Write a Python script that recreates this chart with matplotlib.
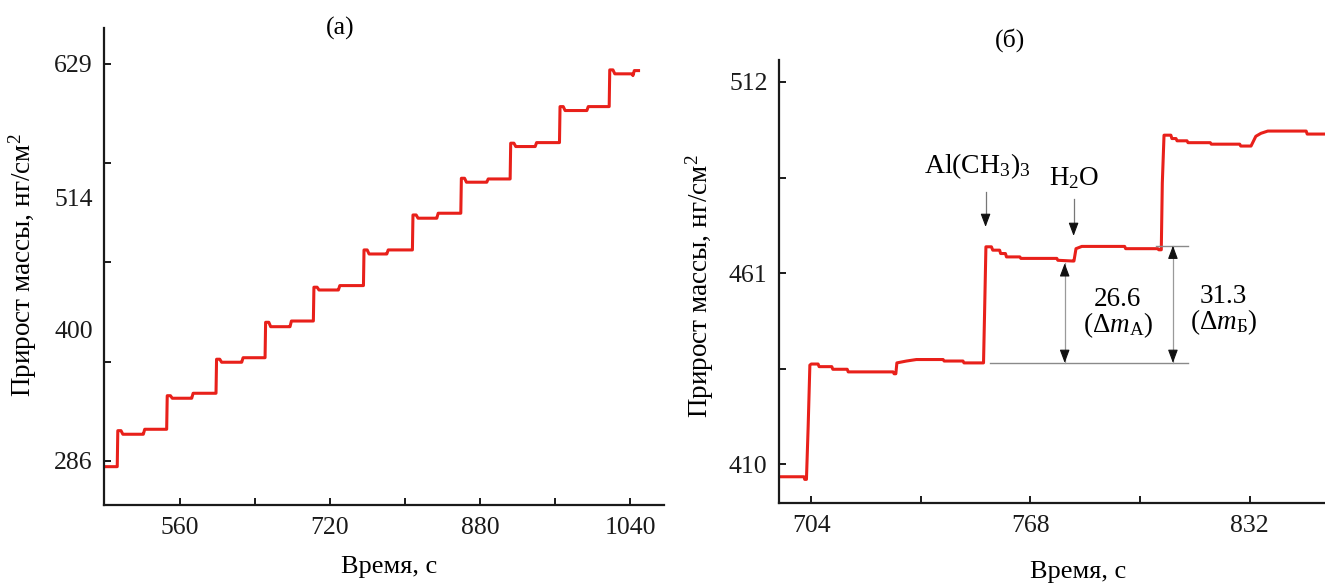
import matplotlib

matplotlib.use("Agg")
import matplotlib.pyplot as plt
import numpy as np

plt.rcParams["font.family"] = ["Liberation Serif", "DejaVu Serif"]
plt.rcParams["mathtext.fontset"] = "custom"
plt.rcParams["mathtext.rm"] = "Liberation Serif"
plt.rcParams["mathtext.it"] = "Liberation Serif:italic"
plt.rcParams["mathtext.bf"] = "Liberation Serif:bold"

RED = "#e8201a"
FS = 18.5

# (а) full run of ALD cycles: one big TMA step and one small water step per cycle
start_t, start_m = 480.0, 281.1
step_t = [493.1, 545.8, 598.4, 650.7, 702.2, 755.6, 807.8, 859.4, 912.0, 964.6, 1017.6]
step_peak = [312.2, 342.4, 373.9, 405.8, 436.1, 468.3, 498.5, 530.2, 560.5, 592.1, 623.8]
step_settle = [309.1, 340.2, 371.3, 402.0, 433.7, 464.8, 495.7, 526.8, 557.6, 588.7, 620.4]
pre_bump = [309.1, 340.2, 371.3, 402.0, 433.7, 464.8, 495.7, 526.8, 557.6, 588.7, 618.9]
bump_t = [520.9, 572.5, 625.8, 677.3, 728.9, 780.5, 833.8, 887.1, 938.7, 993.8, 1042.9]
bump_m = [313.4, 344.5, 375.2, 406.9, 437.5, 468.3, 500.0, 529.6, 561.0, 592.1, 623.2]
end_t = 1048.9

# (б) zoom on a single cycle
trace_t = [695.1, 701.9, 702.1, 702.6, 703.1, 703.6, 704.0, 706.0, 706.3, 710.0, 710.3,
           714.5, 714.8, 727.9, 728.2, 728.7, 729.0, 731.8, 734.7, 742.5, 742.8, 748.3,
           748.6, 754.3, 754.6, 755.0, 756.6, 757.0, 759.0, 759.3, 760.7, 761.0, 764.9,
           765.2, 775.7, 776.0, 780.3, 780.7, 781.3, 783.0, 795.5, 795.8, 805.2, 805.5,
           806.2, 806.5, 807.0, 809.0, 809.3, 810.5, 810.8, 813.7, 814.0, 820.5, 820.8,
           829.1, 829.4, 832.4, 833.8, 835.3, 837.3, 848.5, 848.8, 854.0]
trace_m = [406.6, 406.6, 405.9, 405.9, 420.0, 436.4, 436.7, 436.7, 436.0, 436.0, 435.3,
           435.3, 434.6, 434.6, 434.1, 434.1, 437.0, 437.5, 437.9, 437.9, 437.5, 437.5,
           437.0, 437.0, 450.0, 468.0, 468.0, 467.1, 467.1, 466.2, 466.2, 465.3, 465.3,
           464.9, 464.9, 464.4, 464.2, 464.2, 467.5, 468.1, 468.1, 467.5, 467.5, 467.2,
           467.2, 485.0, 497.8, 497.8, 496.9, 496.9, 496.3, 496.3, 495.8, 495.8, 495.4,
           495.4, 494.9, 494.9, 497.5, 498.3, 498.9, 498.9, 498.1, 498.1]

base_m = 437.0
dm_a = 26.6
dm_b = 31.3
tma_t, h2o_t = 754.9, 780.6
dm_a_t, dm_b_t = 778.0, 809.6


def cycle_trace():
    t, m = [start_t], [start_m]
    prev = start_m
    for i in range(len(step_t)):
        t += [step_t[i], step_t[i] + 0.6, step_t[i] + 4.0, step_t[i] + 6.0,
              bump_t[i] - 0.5, bump_t[i], bump_t[i] + 1.5]
        m += [prev, step_peak[i], step_peak[i], step_settle[i],
              step_settle[i], pre_bump[i], bump_m[i]]
        prev = bump_m[i]
    t.append(end_t)
    m.append(prev)
    return np.array(t), np.array(m)


def style_axis(ax):
    for side in ("top", "right"):
        ax.spines[side].set_visible(False)
    for side in ("left", "bottom"):
        ax.spines[side].set_linewidth(1.6)
        ax.spines[side].set_color("#1a1a1a")
    ax.tick_params(which="both", direction="in", length=5, width=1.4,
                   labelsize=FS, colors="#1a1a1a")
    ax.tick_params(axis="y", pad=8)
    ax.tick_params(axis="x", pad=9)


def double_arrow(ax, x, lo, hi):
    ax.plot([x, x], [lo, hi], color="#9a9a9a", lw=0.9)
    head = "-|>,head_length=0.8,head_width=0.3"
    for tip, tail in ((hi, hi - 3), (lo, lo + 3)):
        ax.annotate("", xy=(x, tip), xytext=(x, tail),
                    arrowprops=dict(arrowstyle=head, fc="#111111", ec="#111111",
                                    lw=0.8, shrinkA=0, shrinkB=0))


def down_arrow(ax, x, top, tip):
    ax.plot([x, x], [top, tip + 2], color="#777777", lw=0.9)
    ax.annotate("", xy=(x, tip), xytext=(x, tip + 3),
                arrowprops=dict(arrowstyle="-|>,head_length=0.8,head_width=0.3",
                                fc="#111111", ec="#111111", lw=0.8,
                                shrinkA=0, shrinkB=0))


fig = plt.figure(figsize=(13.25, 5.83), dpi=100)

# --- panel (а)
ax1 = fig.add_axes([0.0785, 0.1346, 0.4226, 0.8174])
t_all, m_all = cycle_trace()
ax1.plot(t_all, m_all, color=RED, lw=2.2)
ax1.set_xlim(479, 1076)
ax1.set_ylim(248.4, 660)
ax1.set_xticks([560, 720, 880, 1040])
ax1.set_xticks([640, 800, 960], minor=True)
ax1.set_yticks([286, 400, 514, 629])
ax1.set_yticks([371.75, 457.5, 543.25], minor=True)
style_axis(ax1)
for tick, val in zip(ax1.yaxis.get_major_ticks(), [286, 400, 514, 629]):
    if val in (400, 514):
        tick.tick1line.set_visible(False)

# --- panel (б)
ax2 = fig.add_axes([0.5877, 0.1379, 0.4123, 0.7600])
ax2.plot(trace_t, trace_m, color=RED, lw=2.2)
ax2.set_xlim(694.5, 854)
ax2.set_ylim(399.7, 518)
ax2.set_xticks([704, 768, 832])
ax2.set_xticks([736, 800], minor=True)
ax2.set_yticks([410, 461, 512])
ax2.set_yticks([435.5, 486.5], minor=True)
style_axis(ax2)

# reference levels for the two mass gains
ax2.plot([756.3, 814.0], [base_m, base_m], color="#8a8a8a", lw=1.0)
ax2.plot([804.7, 814.0], [base_m + dm_b, base_m + dm_b], color="#8a8a8a", lw=1.0)
double_arrow(ax2, dm_a_t, base_m, base_m + dm_a)
double_arrow(ax2, dm_b_t, base_m, base_m + dm_b)
ax2.text(793.5, 453.8, f"{dm_a}", ha="center", va="center", fontsize=19.5)
ax2.text(793.5, 447.1, r"($\Delta m_{\mathrm{A}}$)", ha="center", va="center", fontsize=19.5)
ax2.text(824.3, 454.6, f"{dm_b}", ha="center", va="center", fontsize=19.5)
ax2.text(824.3, 447.9, r"($\Delta m_{\mathrm{Б}}$)", ha="center", va="center", fontsize=19.5)

down_arrow(ax2, tma_t, 482.7, 473.3)
down_arrow(ax2, h2o_t, 480.7, 470.9)
ax2.text(752.4, 489.6, r"Al(CH$_3$)$_3$", ha="center", va="center", fontsize=20)
ax2.text(780.8, 486.4, r"H$_2$O", ha="center", va="center", fontsize=19.5)

# panel captions and axis titles
fig.text(340 / 1325, 1 - 28 / 583, "(а)", ha="center", va="center", fontsize=FS)
fig.text(1010 / 1325, 1 - 40 / 583, "(б)", ha="center", va="center", fontsize=FS)
ylab = "Прирост массы, нг/см$^2$"
fig.text(23 / 1325, 1 - 265 / 583, ylab, rotation=90, ha="center", va="center", fontsize=19.5)
fig.text(700 / 1325, 1 - 286 / 583, ylab, rotation=90, ha="center", va="center", fontsize=19.5)
fig.text(389 / 1325, 1 - 567 / 583, "Время, с", ha="center", va="center", fontsize=19)
fig.text(1078 / 1325, 1 - 572 / 583, "Время, с", ha="center", va="center", fontsize=19)

fig.savefig("out.png", dpi=100)
plt.close(fig)
